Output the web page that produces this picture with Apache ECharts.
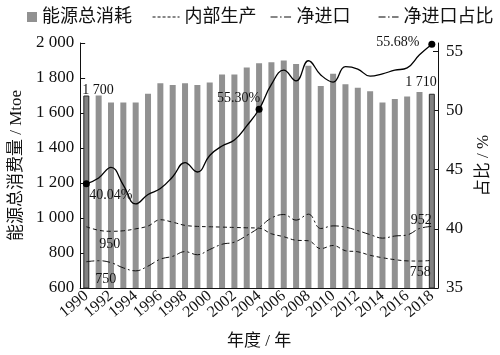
<!DOCTYPE html>
<html>
<head>
<meta charset="utf-8">
<script src="https://cdn.jsdelivr.net/npm/echarts@6/dist/echarts.min.js"></script>
<style>
html,body{margin:0;padding:0;background:#fff;}
#c{width:500px;height:355px;}
</style>
</head>
<body>
<div id="c"></div>
<script>
// ---- data ----
const years = ['1990','1991','1992','1993','1994','1995','1996','1997','1998','1999',
               '2000','2001','2002','2003','2004','2005','2006','2007','2008','2009',
               '2010','2011','2012','2013','2014','2015','2016','2017','2018'];
const totalConsumption = [1700,1700,1660,1660,1660,1710,1770,1760,1770,1760,
                          1775,1820,1820,1860,1885,1890,1900,1880,1870,1755,
                          1825,1765,1745,1725,1660,1680,1695,1720,1710];
const domesticProduction = [950,930,924,927,938,954,990,976,958,952,
                            950,948,946,944,942,910,893,873,870,825,
                            843,813,807,787,773,762,755,754,758];
const netImports = [750,756,745,715,698,725,765,781,808,790,
                    820,850,862,900,945,1000,1020,988,1022,940,
                    955,948,928,905,885,897,903,940,952];
const importShare = [43.8,44.3,45.2,43.7,42.1,42.9,43.4,44.4,45.6,44.8,
                     46.2,47.0,47.5,48.7,50.1,52.2,53.4,52.5,54.2,53.0,
                     52.4,53.7,53.5,52.9,53.1,53.4,53.6,54.7,55.6];
const importShareNotes = ['40.04%','55.30%','55.68%'];
const noteYears = ['1990','2004','2018'];
const leftTicks = [600,800,1000,1200,1400,1600,1800,2000];
const rightTicks = [35,40,45,50,55];

// ---- styling ----
const FONT = "'Liberation Serif', 'Noto Sans CJK SC', serif";
const INK = '#111';
const thousands = v => v >= 1000 ? Math.floor(v / 1000) + ' ' + String(v % 1000).padStart(3, '0') : String(v);
const lastIdx = years.length - 1;

const barData = totalConsumption.map((v, i) => {
  if (i === 0 || i === lastIdx) {
    return {
      value: v,
      itemStyle: {color: '#828282', borderColor: '#2a2a2a', borderWidth: 1},
      label: i === 0
        ? {show: true, position: 'top', align: 'left', distance: 0, offset: [-4, 2]}
        : {show: true, position: 'top', align: 'right', distance: 4, offset: [5, 0]}
    };
  }
  return v;
});

const hiddenPt = {symbol: 'circle', symbolSize: 1, itemStyle: {color: 'rgba(0,0,0,0)', borderWidth: 0}};
function endLabels(arr, firstLabel, lastLabel) {
  return arr.map((v, i) => {
    if (i === 0) return Object.assign({value: v, label: firstLabel}, hiddenPt);
    if (i === lastIdx) return Object.assign({value: v, label: lastLabel}, hiddenPt);
    return v;
  });
}
const prodData = endLabels(domesticProduction,
  {show: true, position: 'bottom', align: 'left', distance: 10, offset: [13, 0]},
  {show: true, position: 'bottom', align: 'right', distance: 4, offset: [-1, 0]});
const importData = endLabels(netImports,
  {show: true, position: 'bottom', align: 'left', distance: 10, offset: [9, 0]},
  {show: true, position: 'top', align: 'right', distance: 0, offset: [0, 1]});

const noteLabelCfg = [
  {position: 'bottom', align: 'left', distance: 1, offset: [3, 0]},
  {position: 'top', align: 'right', distance: 0, offset: [1, 0]},
  {position: 'left', distance: 9, offset: [0, -2]}
];
const shareData = years.map((y, i) => {
  const k = noteYears.indexOf(y);
  if (k < 0) return importShare[i];
  return {
    value: importShare[i], symbol: 'circle', symbolSize: 7,
    itemStyle: {color: '#000'},
    label: Object.assign({show: true, formatter: importShareNotes[k]}, noteLabelCfg[k])
  };
});

const lblText = {fontFamily: FONT, fontSize: 14, color: INK};
const legendBase = {
  top: 3, itemHeight: 14, selectedMode: false,
  textStyle: {fontFamily: FONT, fontSize: 18, color: INK}
};
const dashDotLegend = [7, 2.5, 1.5, 2.5];

const option = {
  backgroundColor: '#fff',
  animation: false,
  textStyle: {fontFamily: FONT},
  legend: [
    Object.assign({}, legendBase, {left: 22, itemWidth: 10, itemHeight: 10,
      data: [{name: '能源总消耗', icon: 'rect'}]}),
    Object.assign({}, legendBase, {left: 147, itemWidth: 27,
      data: [{name: '内部生产', itemStyle: {opacity: 0}, lineStyle: {width: 1.1, type: [3, 2]}}]}),
    Object.assign({}, legendBase, {left: 265, itemWidth: 21,
      data: [{name: '净进口', itemStyle: {opacity: 0}, lineStyle: {width: 1.1, type: dashDotLegend}}]}),
    Object.assign({}, legendBase, {left: 373, itemWidth: 20,
      data: [{name: '净进口占比', itemStyle: {opacity: 0}, lineStyle: {width: 1.1, type: dashDotLegend}}]})
  ],
  grid: {left: 74, right: 56, top: 43, bottom: 67, containLabel: false},
  xAxis: {
    type: 'category', data: years, boundaryGap: true,
    axisLine: {lineStyle: {color: INK, width: 1}},
    axisTick: {show: false},
    axisLabel: {interval: 1, rotate: 40, margin: 6, fontFamily: FONT, fontSize: 16, color: INK},
    name: '年度 / 年', nameLocation: 'middle', nameGap: 45,
    nameTextStyle: {fontFamily: FONT, fontSize: 17, color: INK}
  },
  yAxis: [
    {
      type: 'value', position: 'left', min: 600, max: 2000, interval: 200,
      axisLine: {show: true, lineStyle: {color: INK, width: 1}},
      axisTick: {show: true, inside: true, length: 5, lineStyle: {color: INK}},
      splitLine: {show: false},
      axisLabel: {margin: 6, fontFamily: FONT, fontSize: 17, color: INK, formatter: thousands,
                  customValues: leftTicks},
      name: '能源总消费量 / Mtoe', nameLocation: 'middle', nameGap: 52, nameRotate: 90,
      nameTextStyle: {fontFamily: FONT, fontSize: 17, color: INK}
    },
    {
      type: 'value', position: 'right', min: 35, max: 55.7, interval: 5,
      axisLine: {show: true, lineStyle: {color: INK, width: 1}},
      axisTick: {show: true, inside: true, length: 5, lineStyle: {color: INK}, customValues: rightTicks},
      splitLine: {show: false},
      axisLabel: {margin: 8, fontFamily: FONT, fontSize: 17, color: INK, customValues: rightTicks},
      name: '占比 / %', nameLocation: 'middle', nameGap: 37, nameRotate: 90,
      nameTextStyle: {fontFamily: FONT, fontSize: 17, color: INK}
    }
  ],
  series: [
    {
      name: '能源总消耗', type: 'bar', yAxisIndex: 0, barWidth: 6,
      itemStyle: {color: '#919191'},
      label: Object.assign({show: false, formatter: p => thousands(p.value)}, lblText),
      data: barData, z: 1
    },
    {
      name: '内部生产', type: 'line', yAxisIndex: 0, smooth: 0.4,
      symbol: 'none', showSymbol: true, showAllSymbol: true,
      itemStyle: {color: INK},
      lineStyle: {color: INK, width: 1, type: [4, 3]},
      label: Object.assign({show: false}, lblText),
      data: prodData, z: 3
    },
    {
      name: '净进口', type: 'line', yAxisIndex: 0, smooth: 0.4,
      symbol: 'none', showSymbol: true, showAllSymbol: true,
      itemStyle: {color: INK},
      lineStyle: {color: INK, width: 1, type: [8, 3, 2, 3]},
      label: Object.assign({show: false}, lblText),
      data: importData, z: 3
    },
    {
      name: '净进口占比', type: 'line', yAxisIndex: 1, smooth: 0.45,
      symbol: 'none', showSymbol: true, showAllSymbol: true,
      itemStyle: {color: '#000'},
      lineStyle: {color: '#000', width: 1.3},
      label: Object.assign({show: false}, lblText),
      data: shareData, z: 4
    }
  ]
};

const chart = echarts.init(document.getElementById('c'), null, {renderer: 'canvas'});
chart.setOption(option);
</script>
</body>
</html>
